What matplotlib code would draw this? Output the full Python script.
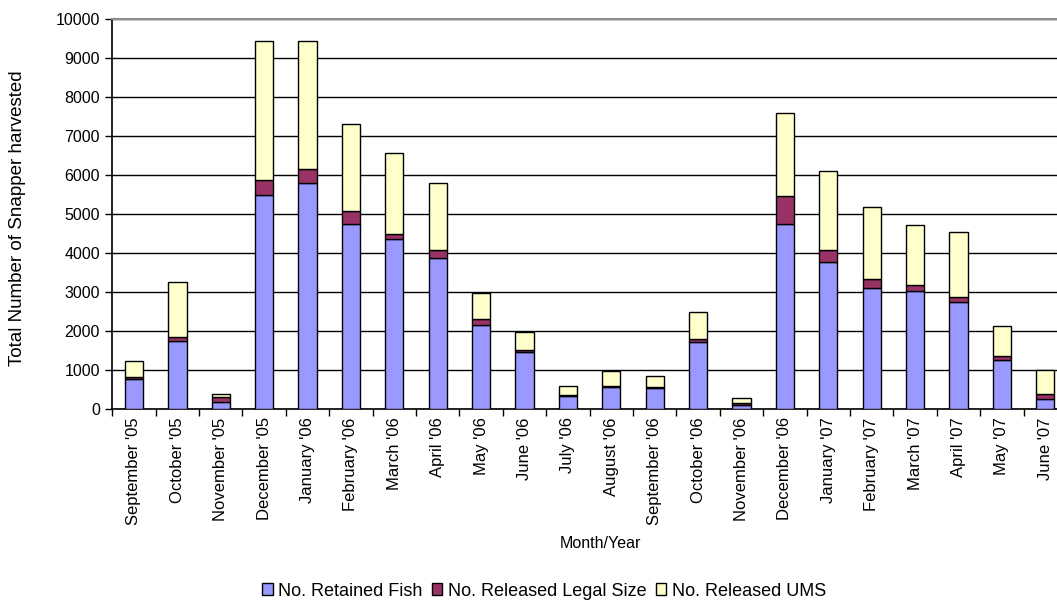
import matplotlib
matplotlib.use("Agg")
import matplotlib.pyplot as plt
import numpy as np
from matplotlib.patches import Patch

months = ["September '05", "October '05", "November '05", "December '05",
          "January '06", "February '06", "March '06", "April '06", "May '06",
          "June '06", "July '06", "August '06", "September '06", "October '06",
          "November '06", "December '06", "January '07", "February '07",
          "March '07", "April '07", "May '07", "June '07"]

retained = [770, 1740, 170, 5490, 5810, 4760, 4370, 3870, 2160, 1470, 340,
            570, 540, 1710, 95, 4760, 3760, 3100, 3030, 2750, 1250, 265]
released_legal = [40, 110, 140, 390, 350, 310, 130, 200, 160, 45, 10,
                  25, 15, 75, 50, 700, 320, 240, 150, 120, 120, 120]
released_ums = [430, 1400, 75, 3570, 3290, 2240, 2080, 1740, 660, 460, 230,
                370, 300, 700, 125, 2130, 2040, 1850, 1550, 1660, 760, 615]

y_ticks = [0, 1000, 2000, 3000, 4000, 5000, 6000, 7000, 8000, 9000, 10000]

series_names = ["No. Retained Fish", "No. Released Legal Size", "No. Released UMS"]
series_colors = ["#9999FF", "#993366", "#FFFFCC"]

plt.rcParams['font.family'] = ['Liberation Sans', 'DejaVu Sans']

W, H = 1057, 604
fig = plt.figure(figsize=(W / 100, H / 100), dpi=100)
left_px, right_px, top_px, bottom_px = 112.3, 1067, 19.3, 409
ax = fig.add_axes([left_px / W, 1 - bottom_px / H,
                   (right_px - left_px) / W, (bottom_px - top_px) / H])

x = np.arange(len(months))
bottom = np.zeros(len(months))
for vals, col in zip([retained, released_legal, released_ums], series_colors):
    v = np.array(vals, dtype=float)
    ax.bar(x, v, bottom=bottom, width=0.42, color=col, edgecolor="black",
           linewidth=1.0, zorder=3)
    bottom += v

ax.set_xlim(-0.5, len(months) - 0.5)
ax.set_ylim(0, 10000)
ax.set_yticks(y_ticks)
ax.set_yticklabels([str(t) for t in y_ticks], fontsize=11.5)
ax.yaxis.grid(True, color="black", linewidth=1.0, zorder=0)
ax.set_axisbelow(True)

ax.set_xticks(x)
ax.set_xticklabels(months, rotation=90, fontsize=12, va="top", ha="center")
ax.set_xticks(np.arange(len(months) + 1) - 0.5, minor=True)
ax.tick_params(axis="x", which="major", length=0, pad=6)
ax.tick_params(axis="x", which="minor", length=5, width=1.0, direction="out")
ax.tick_params(axis="y", length=5, width=1.0, direction="out", pad=4)

for s in ["left", "bottom"]:
    ax.spines[s].set_color("black")
    ax.spines[s].set_linewidth(1.2)
ax.spines["top"].set_color("#8c8c8c")
ax.spines["top"].set_linewidth(1.5)
ax.spines["right"].set_visible(False)

fig.text(18 / W, 1 - 218 / H, "Total Number of Snapper harvested", rotation=90,
         ha="center", va="center", fontsize=13.5)
fig.text(600 / W, 1 - 543 / H, "Month/Year", ha="center", va="center", fontsize=11.5)

handles = [Patch(facecolor=c, edgecolor="black", linewidth=1.0) for c in series_colors]
fig.legend(handles, series_names, loc="center", bbox_to_anchor=(544 / W, 1 - 591 / H),
           ncol=3, frameon=False, fontsize=13, handlelength=0.6, handleheight=0.6,
           handletextpad=0.3, columnspacing=0.5, borderaxespad=0)

fig.savefig("out.png", dpi=100)
